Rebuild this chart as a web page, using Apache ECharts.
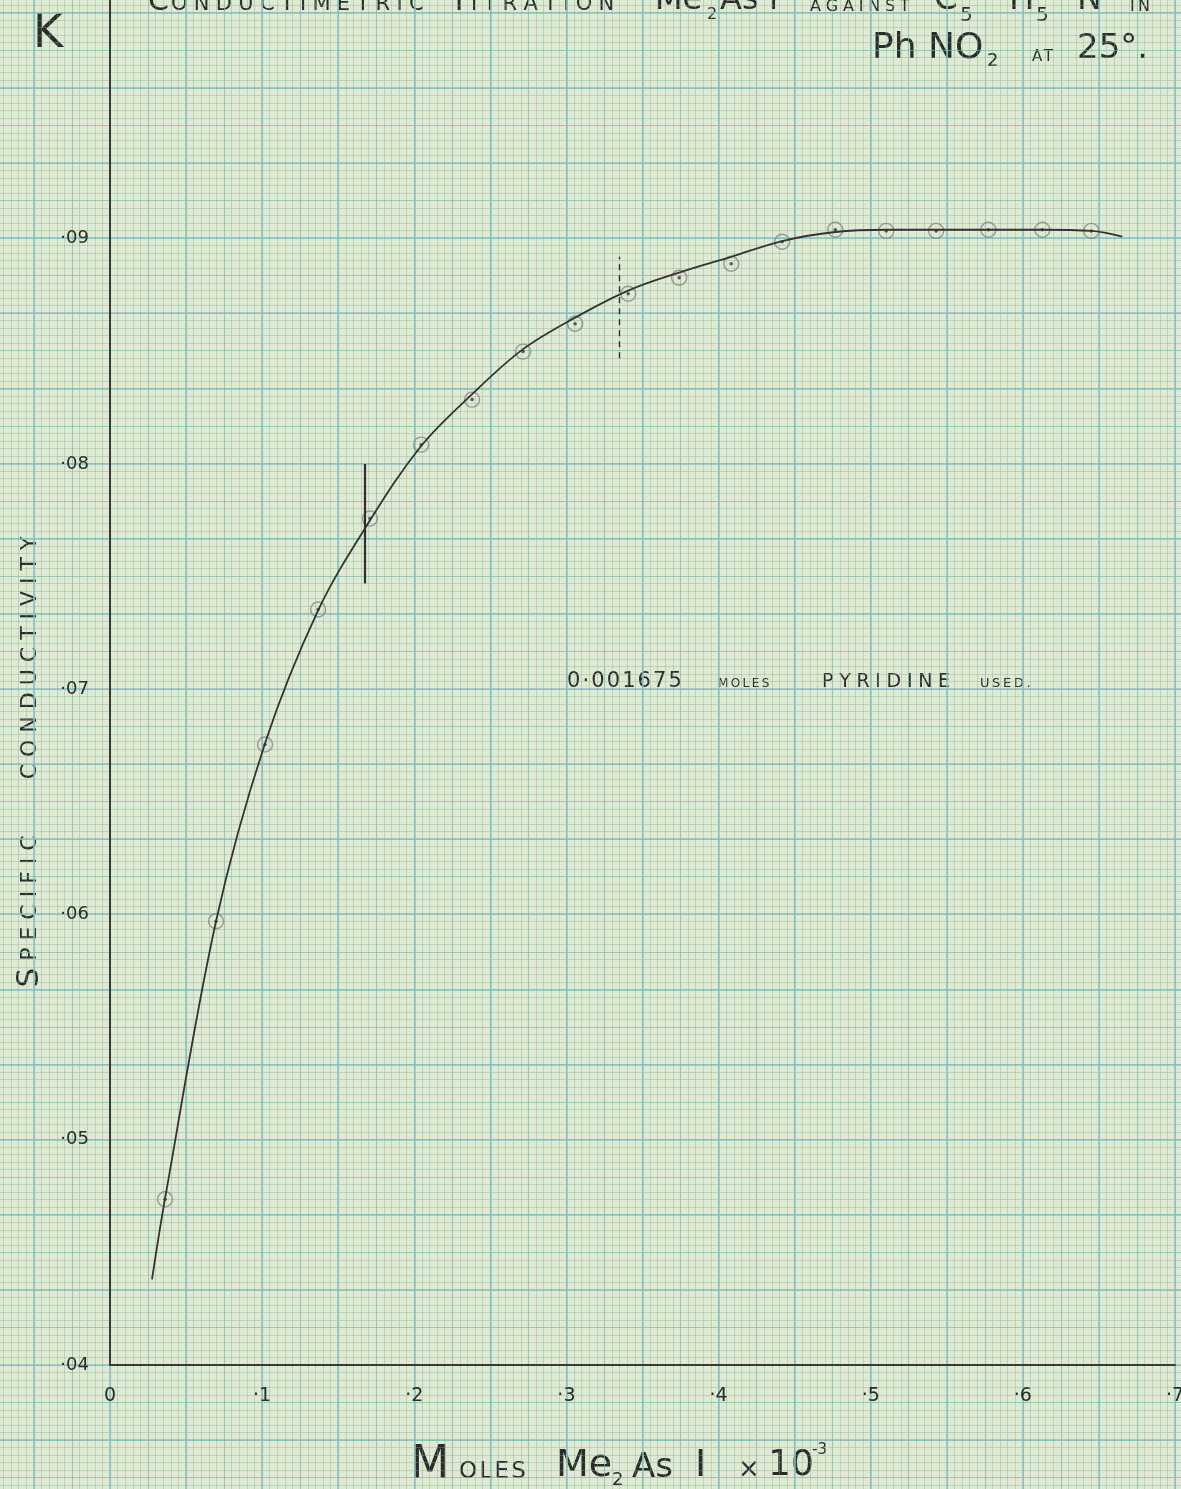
<!DOCTYPE html>
<html>
<head>
<meta charset="utf-8">
<title>Conductimetric titration</title>
<script src="https://cdn.jsdelivr.net/npm/echarts@6/dist/echarts.min.js"></script>
<style>
  html, body { margin: 0; padding: 0; background: #e0e9d2; }
  #chart { width: 1181px; height: 1489px; }
</style>
</head>
<body>
<div id="chart"></div>
<script>
// measured points (moles Me2AsI x 10^-3, specific conductivity)
const pointX = [0.0362, 0.0697, 0.1019, 0.1368, 0.1709, 0.2045, 0.2380, 0.2715, 0.3057, 0.3406,
  0.3741, 0.4083, 0.4418, 0.4767, 0.5102, 0.5430, 0.5773, 0.6128, 0.6450];
const pointY = [0.04736, 0.0597, 0.06755, 0.07354, 0.07758, 0.08086, 0.08286, 0.08499, 0.08623, 0.08756,
  0.08827, 0.08889, 0.08987, 0.0904, 0.09035, 0.09035, 0.0904, 0.0904, 0.09035];

// hand drawn curve
const curveX = [0.0276, 0.0362, 0.0697, 0.1019, 0.1368, 0.1700, 0.2045, 0.2380, 0.2715, 0.3057,
  0.3406, 0.3741, 0.4083, 0.4418, 0.4767, 0.5102, 0.5430, 0.5773, 0.6128, 0.6450, 0.6654];
const curveY = [0.0438, 0.0474, 0.0597, 0.0676, 0.0735, 0.0774, 0.0808, 0.0831, 0.0851, 0.0865,
  0.0877, 0.0885, 0.0892, 0.0899, 0.0903, 0.0904, 0.0904, 0.0904, 0.0904, 0.09035, 0.0901];

// equivalence marks: solid at 0.1675, dashed at twice that
const solidMark = [[0.1675, 0.0747], [0.1675, 0.0800]];
const dashedMark = [[0.335, 0.0847], [0.335, 0.0892]];

const xTicks = ['0', '·1', '·2', '·3', '·4', '·5', '·6', '·7'];
const yTicks = ['·04', '·05', '·06', '·07', '·08', '·09'];

const ink = '#2b2b2b';
const font = 'DejaVu Sans';

let chart = echarts.init(document.getElementById('chart'));

// graph paper: hidden axes whose split lines make the squares
const paperRect = { left: -42.14, top: -62.5, width: 1521.4, height: 1652.9 };
function paperGrid() {
  return Object.assign({ show: false, outerBoundsMode: 'none', containLabel: false }, paperRect);
}
function paperAxis(gridIndex, max, interval, lineStyle, minor) {
  return {
    type: 'value', gridIndex: gridIndex, min: 0, max: max, interval: interval,
    axisLine: { show: false }, axisTick: { show: false }, axisLabel: { show: false },
    splitLine: { show: true, lineStyle: lineStyle },
    minorTick: { show: false, splitNumber: 10 },
    minorSplitLine: minor ? { show: true, lineStyle: { color: 'rgba(120,175,150,0.36)', width: 1 } } : { show: false },
    silent: true
  };
}

// letters spread out like the hand lettering
function spaced(s, gap) {
  return s.split('').join(gap || '\u2009');
}
// y is the middle of the capitals
function txt(x, y, text, size, extra) {
  return {
    type: 'text', x: x, y: y, silent: true,
    style: Object.assign({
      text: text, fontFamily: font, fontSize: size, fill: ink,
      textVerticalAlign: 'middle'
    }, extra || {})
  };
}

let option = {
  backgroundColor: '#e0e9d2',
  animation: false,
  grid: [
    paperGrid(),
    paperGrid(),
    { left: 110, right: 6, top: 0, bottom: 124, show: false, outerBoundsMode: 'none', containLabel: false }
  ],
  xAxis: [
    paperAxis(0, 20, 1, { color: '#8ac2c6', width: 1.5 }, true),
    paperAxis(1, 20, 0.5, { color: 'rgba(120,185,180,0.5)', width: 1.1 }, false),
    {
      type: 'value', gridIndex: 2, min: 0, max: 0.7, interval: 0.1,
      axisLine: { show: true, onZero: false, lineStyle: { color: '#3a3a3a', width: 2 } },
      axisTick: { show: false },
      splitLine: { show: false },
      axisLabel: {
        margin: 22, fontFamily: font, fontSize: 19, color: ink,
        formatter: v => xTicks[Math.round(v * 10)]
      }
    }
  ],
  yAxis: [
    paperAxis(0, 22, 1, { color: '#8ac2c6', width: 1.5 }, true),
    paperAxis(1, 22, 0.5, { color: 'rgba(120,185,180,0.5)', width: 1.1 }, false),
    {
      type: 'value', gridIndex: 2, min: 0.04, max: 0.1006, interval: 0.01,
      axisLine: { show: true, onZero: false, lineStyle: { color: '#3a3a3a', width: 2 } },
      axisTick: { show: false },
      splitLine: { show: false },
      axisLabel: {
        margin: 21, fontFamily: font, fontSize: 18, color: ink, padding: [0, 0, 12, 0],
        formatter: v => {
          let i = Math.round((v - 0.04) * 100);
          return yTicks[i] || '';
        }
      }
    }
  ],
  series: [
    {
      type: 'line', xAxisIndex: 2, yAxisIndex: 2,
      data: curveX.map((x, i) => [x, curveY[i]]),
      smooth: 0.35, showSymbol: false,
      lineStyle: { color: '#333', width: 1.8 },
      markLine: {
        silent: true, symbol: 'none', label: { show: false },
        data: [
          [{ coord: solidMark[0], lineStyle: { type: 'solid', width: 2.2, color: '#2e2e2e' } }, { coord: solidMark[1] }],
          [{ coord: dashedMark[0], lineStyle: { type: [6, 5], width: 1.4, color: '#2e2e2e' } }, { coord: dashedMark[1] }]
        ]
      }
    },
    {
      type: 'scatter', xAxisIndex: 2, yAxisIndex: 2,
      data: pointX.map((x, i) => [x, pointY[i]]),
      symbol: 'circle', symbolSize: 15,
      itemStyle: { color: 'rgba(0,0,0,0)', borderColor: '#858585', borderWidth: 1.4 }
    },
    {
      type: 'scatter', xAxisIndex: 2, yAxisIndex: 2,
      data: pointX.map((x, i) => [x, pointY[i]]),
      symbol: 'circle', symbolSize: 3.5,
      itemStyle: { color: '#333' }
    }
  ],
  graphic: [
    txt(33, 35, 'K', 46),

    // title, first line (cut by the top of the sheet)
    txt(148, 2, 'C', 30),
    txt(171, 5, spaced('ONDUCTIMETRIC', '\u2009\u200A'), 21),
    txt(450, 2, 'T', 30),
    txt(471, 5, spaced('ITRATION', '\u2009\u200A'), 21),
    txt(655, 1, 'Me', 32),
    txt(707, 15, '2', 16),
    txt(720, 1, 'As I', 32),
    txt(810, 7, spaced('AGAINST', '\u2009\u200A'), 16),
    txt(934, 0, 'C', 34),
    txt(960, 16, '5', 20),
    txt(1009, 0, 'H', 34),
    txt(1036, 16, '5', 20),
    txt(1077, 0, 'N', 34),
    txt(1130, 7, spaced('IN', '\u2009'), 16),

    // title, second line
    txt(872, 49, 'Ph NO', 36),
    txt(987, 61, '2', 18),
    txt(1032, 57, spaced('AT', '\u200A'), 15),
    txt(1077, 49, '25°.', 34),

    // note
    txt(567, 682, spaced('0·001675', '\u200A'), 21),
    txt(718, 684, spaced('MOLES', '\u2009'), 12),
    txt(822, 682, spaced('PYRIDINE', '\u2009\u200A'), 19),
    txt(980, 684, spaced('USED.', '\u2009'), 13),

    // x axis title
    txt(410, 1466, 'M', 46),
    txt(459, 1472, spaced('OLES', '\u200A'), 23),
    txt(556, 1466, 'Me', 38),
    txt(612, 1480, '2', 18),
    txt(632, 1468, 'As', 34),
    txt(695, 1466, 'I', 38),
    txt(738, 1470, '×', 26),
    txt(768, 1466, '10', 36),
    txt(812, 1450, '-3', 15),

    // y axis title, reading upwards
    {
      type: 'text', x: 30, y: 762, rotation: Math.PI / 2, silent: true,
      style: {
        text: '{c|S}' + '{s| ' + spaced('PECIFIC', ' ') + '}' + '{s|        }' +
              '{s|' + spaced('CONDUCTIVITY', ' ') + '}',
        rich: {
          c: { fontFamily: font, fontSize: 31, fill: ink },
          s: { fontFamily: font, fontSize: 22, fill: ink }
        },
        textAlign: 'center', textVerticalAlign: 'middle'
      }
    }
  ]
};

chart.setOption(option);
window.addEventListener('resize', () => chart.resize());
</script>
</body>
</html>
